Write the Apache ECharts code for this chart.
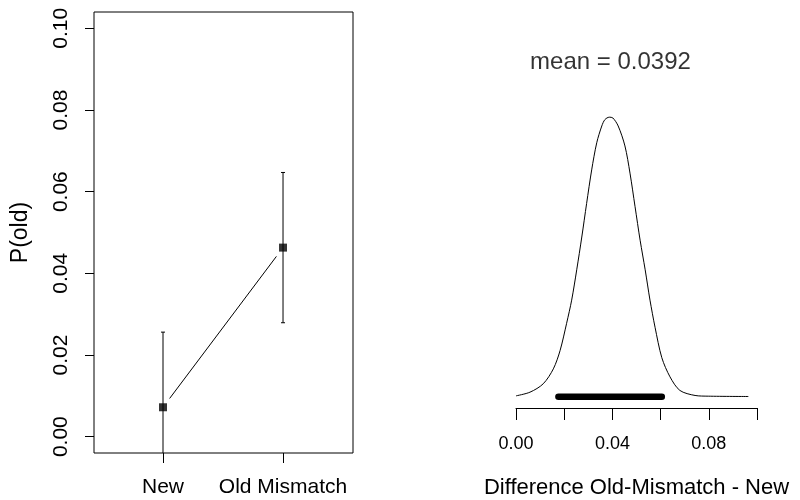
<!DOCTYPE html>
<html>
<head>
<meta charset="utf-8">
<script src="https://cdn.jsdelivr.net/npm/echarts@6/dist/echarts.min.js"></script>
<style>html,body{margin:0;padding:0;background:#fff}#c{width:800px;height:500px}</style>
</head>
<body>
<div id="c"></div>
<script>
// ---- Left panel data ----
const categories = ['New', 'Old Mismatch'];
const catPositions = [1, 2];
const means = [0.0072, 0.0463];
const lowerCI = [-0.011, 0.0279];
const upperCI = [0.0256, 0.0647];
const yTicks = [0, 0.02, 0.04, 0.06, 0.08, 0.10];

// ---- Right panel data (posterior density of difference) ----
const diffX = [0.0000, 0.0058, 0.0113, 0.0155, 0.0183, 0.0210, 0.0231, 0.0252, 0.0273, 0.0293, 0.0314, 0.0335, 0.0356, 0.0369, 0.0387, 0.0402, 0.0424, 0.0452, 0.0473, 0.0494, 0.0515, 0.0536, 0.0556, 0.0577, 0.0605, 0.0639, 0.0680, 0.0743, 0.0798, 0.0964];
const diffDensity = [0.12, 0.58, 1.63, 3.5, 5.8, 9.2, 12.1, 15.9, 20.0, 24.2, 28.4, 31.8, 33.9, 34.7, 35.0, 34.9, 33.9, 31.4, 28.0, 23.8, 19.6, 15.9, 12.1, 8.7, 4.9, 2.5, 0.8, 0.17, 0.08, 0.04];
const diffMean = 0.0392;
const hdi = [0.0176, 0.0605];
const xTicksRight = [0, 0.02, 0.04, 0.06, 0.08, 0.10];
const xLabelsRight = [0, 0.04, 0.08];

const FONT = 'Liberation Sans';
const chart = echarts.init(document.getElementById('c'), null, {renderer: 'canvas'});

const pointData = catPositions.map((p, i) => [p, means[i]]);
const errData = catPositions.map((p, i) => [p, lowerCI[i], upperCI[i]]);
const densityData = diffX.map((x, i) => [x, diffDensity[i]]);

const option = {
  animation: false,
  backgroundColor: '#fff',
  textStyle: {fontFamily: FONT, color: '#000'},
  grid: [
    {left: 94, top: 12, width: 259, height: 441, show: true, borderColor: '#000', borderWidth: 1, containLabel: false, outerBoundsMode: 'none'},
    {left: 516, top: 106, width: 241, height: 302, containLabel: false, outerBoundsMode: 'none'}
  ],
  xAxis: [
    {
      type: 'value', gridIndex: 0, min: 0.425, max: 2.583,
      axisLine: {show: false, onZero: false},
      splitLine: {show: false},
      axisTick: {show: true, inside: false, length: 10, lineStyle: {color: '#000', width: 1}, customValues: catPositions},
      axisLabel: {show: true, customValues: catPositions, margin: 24, fontSize: 21, color: '#000', fontFamily: FONT,
        formatter: v => categories[catPositions.indexOf(Math.round(v))] || ''}
    },
    {
      type: 'value', gridIndex: 1, min: 0, max: 0.1,
      axisLine: {show: true, onZero: false, lineStyle: {color: '#000', width: 1}},
      splitLine: {show: false},
      axisTick: {show: true, inside: false, length: 12, lineStyle: {color: '#000', width: 1}, customValues: xTicksRight},
      axisLabel: {show: true, customValues: xLabelsRight, margin: 27, fontSize: 18, color: '#000', fontFamily: FONT,
        formatter: v => v.toFixed(2)},
      name: 'Difference Old-Mismatch - New', nameLocation: 'middle', nameGap: 69,
      nameTextStyle: {fontSize: 22, color: '#000', fontFamily: FONT}
    }
  ],
  yAxis: [
    {
      type: 'value', gridIndex: 0, min: -0.004, max: 0.104,
      axisLine: {show: false, onZero: false},
      splitLine: {show: false},
      axisTick: {show: true, inside: false, length: 9, lineStyle: {color: '#000', width: 1}, customValues: yTicks},
      axisLabel: {show: true, customValues: yTicks, rotate: 90, margin: 22, fontSize: 21, color: '#000', fontFamily: FONT,
        formatter: v => v.toFixed(2)},
      name: 'P(old)', nameLocation: 'middle', nameGap: 62, nameRotate: 90,
      nameTextStyle: {fontSize: 23, color: '#000', fontFamily: FONT}
    },
    {
      type: 'value', gridIndex: 1, min: -1.4, max: 36.4, show: false
    }
  ],
  series: [
    {
      type: 'custom', xAxisIndex: 0, yAxisIndex: 0, clip: true,
      data: errData,
      renderItem: (params, api) => {
        const x = api.value(0);
        const lo = api.coord([x, api.value(1)]);
        const hi = api.coord([x, api.value(2)]);
        const cw = 2;
        return {type: 'group', children: [
          {type: 'line', shape: {x1: lo[0], y1: lo[1], x2: hi[0], y2: hi[1]}, style: {stroke: '#000', lineWidth: 1}},
          {type: 'line', shape: {x1: lo[0] - cw, y1: lo[1], x2: lo[0] + cw, y2: lo[1]}, style: {stroke: '#000', lineWidth: 1}},
          {type: 'line', shape: {x1: hi[0] - cw, y1: hi[1], x2: hi[0] + cw, y2: hi[1]}, style: {stroke: '#000', lineWidth: 1}}
        ]};
      },
      z: 2
    },
    {
      type: 'custom', xAxisIndex: 0, yAxisIndex: 0, clip: true,
      data: pointData.slice(0, pointData.length - 1).map((p, i) => [p[0], p[1], pointData[i + 1][0], pointData[i + 1][1]]),
      renderItem: (params, api) => {
        const a = api.coord([api.value(0), api.value(1)]);
        const b = api.coord([api.value(2), api.value(3)]);
        const dx = b[0] - a[0], dy = b[1] - a[1];
        const len = Math.sqrt(dx * dx + dy * dy);
        const gap = 11;
        const ux = dx / len, uy = dy / len;
        return {type: 'line', shape: {x1: a[0] + ux * gap, y1: a[1] + uy * gap, x2: b[0] - ux * gap, y2: b[1] - uy * gap},
          style: {stroke: '#000', lineWidth: 1}};
      },
      z: 2
    },
    {
      type: 'scatter', xAxisIndex: 0, yAxisIndex: 0,
      data: pointData, symbol: 'rect', symbolSize: 8,
      itemStyle: {color: '#000'}, z: 3
    },
    {
      type: 'line', xAxisIndex: 1, yAxisIndex: 1,
      data: densityData, showSymbol: false, smooth: 0.3,
      lineStyle: {color: '#000', width: 1}, z: 2
    },
    {
      type: 'line', xAxisIndex: 1, yAxisIndex: 1,
      data: hdi.map(v => [v, 0]), showSymbol: false,
      lineStyle: {color: '#000', width: 6.5, cap: 'round'}, z: 3
    },
    {
      type: 'scatter', xAxisIndex: 1, yAxisIndex: 1, clip: false,
      data: [[diffMean, 41.8]], symbolSize: 0, silent: true,
      label: {show: true, position: 'inside', formatter: () => 'mean = ' + diffMean.toFixed(4),
        fontSize: 24, color: '#000', fontFamily: FONT}
    }
  ]
};
chart.setOption(option);
</script>
</body>
</html>
